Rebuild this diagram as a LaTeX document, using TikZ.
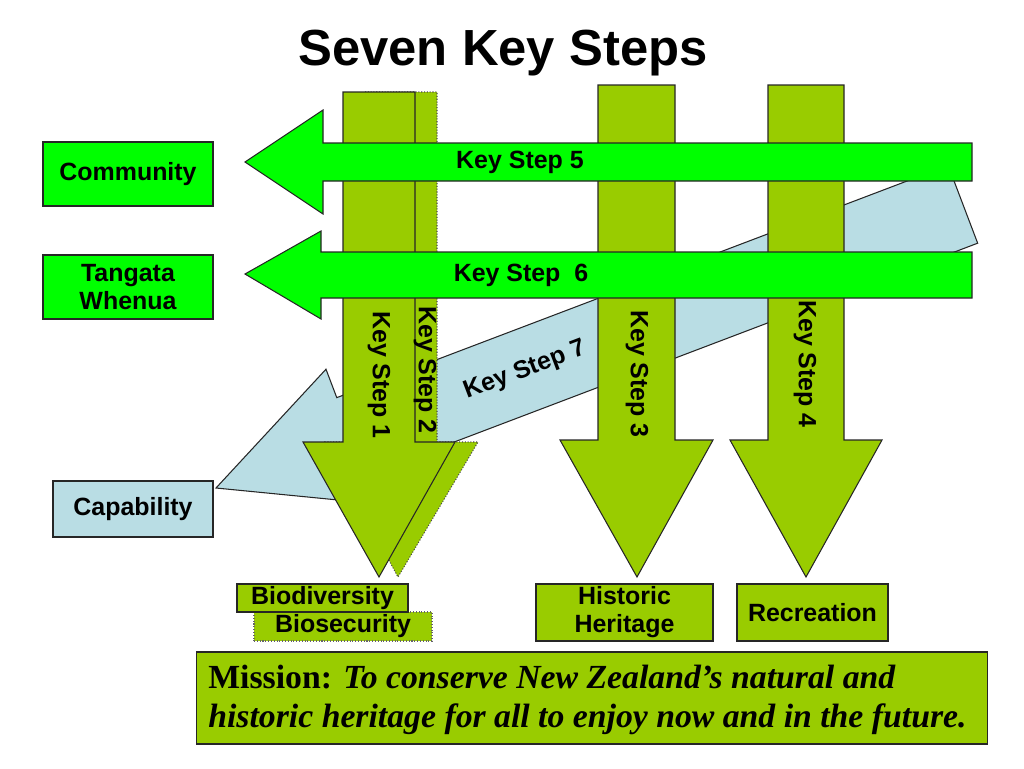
\documentclass[tikz,border=0pt]{standalone}
\usepackage{fontspec}
\setmainfont{Liberation Sans}
\newfontfamily\missionfont{Liberation Serif}
\newcommand{\keyfont}{\fontsize{14.2}{16}\selectfont\bfseries}
\definecolor{stepolive}{RGB}{153,204,0}
\definecolor{keygreen}{RGB}{0,255,0}
\definecolor{keyblue}{RGB}{185,221,228}
\begin{document}
\begin{tikzpicture}[x=0.02cm, y=-0.02cm,
  edge/.style={draw=black!85, line width=0.6pt},
  downstep/.style={edge, fill=stepolive},
  sidestep/.style={edge, fill=keygreen},
  greenbox/.style={rectangle, edge, fill=keygreen, font=\keyfont, align=center, inner sep=0pt},
  olivebox/.style={rectangle, edge, fill=stepolive, font=\keyfont, align=center, inner sep=0pt},
  bluebox/.style={rectangle, edge, fill=keyblue, font=\keyfont, align=center, inner sep=0pt},
  steplabel/.style={font=\keyfont, inner sep=0pt},
  ]
 \useasboundingbox (0,0) rectangle (1024,768);
 % title
 \node [anchor=base, font=\fontsize{28.9}{32}\selectfont\bfseries] (title) at (503,65) {Seven Key Steps};
 % Key Step 7 (under everything else)
 \begin{scope}[shift={(216,488)}, rotate=20.8]
  \draw [edge, fill=keyblue] (0,0) -- (145,-72) -- (145,-41.6) -- (799,-41.6) -- (799,41.6)
    -- (145,41.6) -- (145,72) -- cycle;
  \node [steplabel, transform shape] (ks7) at (331,0) {Key Step 7};
 \end{scope}
 % downward steps
 \draw [fill=stepolive, draw=black!70, densely dotted, line width=0.6pt] (365,92) -- (437,92) -- (437,442)
   -- (478,442) -- (398,577) -- (325,442) -- (365,442) -- cycle;
 \draw [downstep] (343,92) -- (415,92) -- (415,442) -- (455,442) -- (379,577) -- (303,442) -- (343,442) -- cycle;
 \draw [downstep] (598,85) -- (675,85) -- (675,440) -- (713,440) -- (637,577) -- (560,440) -- (598,440) -- cycle;
 \draw [downstep] (768,85) -- (844,85) -- (844,440) -- (882,440) -- (806,577) -- (730,440) -- (768,440) -- cycle;
 \node [steplabel, rotate=-90] (ks1) at (379,375) {Key Step 1};
 \node [steplabel, rotate=-90] (ks2) at (425,370) {Key Step 2};
 \node [steplabel, rotate=-90] (ks3) at (637,374) {Key Step 3};
 \node [steplabel, rotate=-90] (ks4) at (805,364) {Key Step 4};
 % sideways steps
 \draw [sidestep] (972,143) -- (323,143) -- (323,110) -- (245,162) -- (323,214) -- (323,181) -- (972,181) -- cycle;
 \draw [sidestep] (972,252) -- (321,252) -- (321,231) -- (245,274) -- (321,319) -- (321,298) -- (972,298) -- cycle;
 \node [steplabel] (ks5) at (520,162) {Key Step 5};
 \node [steplabel] (ks6) at (521,275) {Key Step~~6};
 % boxes
 \node [greenbox, minimum width=3.4cm, minimum height=1.28cm] (community) at (128,174) {Community};
 \node [greenbox, minimum width=3.4cm, minimum height=1.28cm] (tangata) at (128,287) {Tangata\\Whenua};
 \node [bluebox, minimum width=3.2cm, minimum height=1.12cm] (capability) at (133,509) {Capability};
 \node [olivebox, draw=black!60, densely dotted, minimum width=3.56cm, minimum height=0.58cm] (biosec) at (343,626.5) {Biosecurity};
 \node [olivebox, minimum width=3.42cm, minimum height=0.56cm] (biodiv) at (322.5,598) {Biodiversity};
 \node [olivebox, minimum width=3.54cm, minimum height=1.14cm] (historic) at (624.5,612.5) {Historic\\Heritage};
 \node [olivebox, minimum width=3.02cm, minimum height=1.14cm] (recreation) at (812.5,612.5) {Recreation};
 \node [olivebox, minimum width=15.84cm, minimum height=1.84cm] (mission) at (592,698) {};
 \node [anchor=west, inner sep=0pt, align=left,
   font=\missionfont\fontsize{19.2}{22.1}\selectfont\bfseries] (missiontext) at (208,700)
   {Mission: \itshape To conserve New Zealand’s natural and\\\itshape historic heritage for all to enjoy now and in the future.};
\end{tikzpicture}
\end{document}
